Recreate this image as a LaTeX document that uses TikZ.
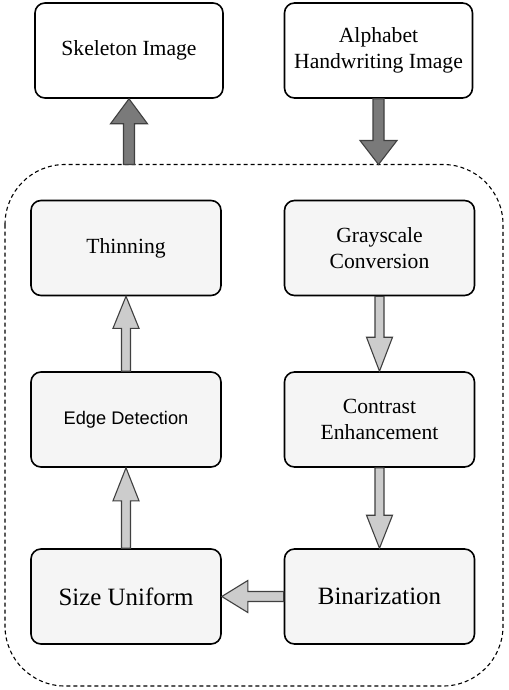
\documentclass[tikz,border=0pt]{standalone}
\usepackage{fontspec}
\setmainfont{Liberation Serif}
\newfontfamily\arialf{Liberation Sans}
\usetikzlibrary{calc}
\newcommand\blockarrow[6]{%
  \coordinate (ba-h) at ($(#3)!#6!(#2)$);
  \draw[#1] ($(#2)!#4!90:(#3)$) -- ($(ba-h)!#4!90:(#3)$) -- ($(ba-h)!#5!90:(#3)$) -- (#3)
    -- ($(ba-h)!#5!-90:(#3)$) -- ($(ba-h)!#4!-90:(#3)$) -- ($(#2)!#4!-90:(#3)$) -- cycle;
}
\tikzset{
  outbox/.style={draw=black, line width=1.6pt, rounded corners=10bp, fill=white,
    minimum width=188bp, minimum height=95bp, align=center, inner sep=0pt,
    font=\fontsize{21.7}{26.5}\selectfont},
  stepbox/.style={outbox, fill=black!4, minimum width=190bp},
  bigtext/.style={font=\fontsize{25}{30}\selectfont},
  sanstext/.style={font=\arialf\fontsize{18.3}{22}\selectfont},
  darkarrow/.style={fill=black!52, draw=black!75, line width=1.1pt, line join=miter},
  lightarrow/.style={fill=black!20, draw=black!75, line width=1.1pt, line join=miter},
  procbox/.style={draw=black, line width=1.1pt, dashed, dash pattern=on 4bp off 3bp, rounded corners=60bp}
}
\begin{document}
\begin{tikzpicture}[x=1bp,y=-1bp]
\useasboundingbox (0,0) rectangle (509,690);
\fill[white] (0,0) rectangle (509,690);
\draw[procbox] (5,164.5) rectangle (503,686);
\coordinate (inS) at (129,164.5);
\coordinate (inA) at (378.5,164.5);
\node[outbox] (skel) at (129,50.5) {Skeleton Image};
\node[outbox] (alpha) at (378.5,50.5) {Alphabet\\Handwriting Image};
\node[stepbox] (thin) at (126,248) {Thinning};
\node[stepbox] (gray) at (379.5,248) {Grayscale\\Conversion};
\node[stepbox, sanstext] (edge) at (126,419.5) {Edge Detection};
\node[stepbox] (contr) at (379.5,419.5) {Contrast\\Enhancement};
\node[stepbox, bigtext] (size) at (126,596.5) {Size Uniform};
\node[stepbox, bigtext] (bin) at (379.5,596.5) {Binarization};
\blockarrow{darkarrow}{inS}{skel.south}{5.5bp}{18.5bp}{25bp}
\blockarrow{darkarrow}{alpha.south}{inA}{5.5bp}{18.5bp}{24bp}
\blockarrow{lightarrow}{gray.south}{contr.north}{4.5bp}{13bp}{34bp}
\blockarrow{lightarrow}{contr.south}{bin.north}{4.5bp}{13bp}{33bp}
\blockarrow{lightarrow}{bin.west}{size.east}{5bp}{16bp}{26bp}
\blockarrow{lightarrow}{size.north}{edge.south}{4.5bp}{13bp}{33bp}
\blockarrow{lightarrow}{edge.north}{thin.south}{4.5bp}{13bp}{32bp}
\end{tikzpicture}
\end{document}
